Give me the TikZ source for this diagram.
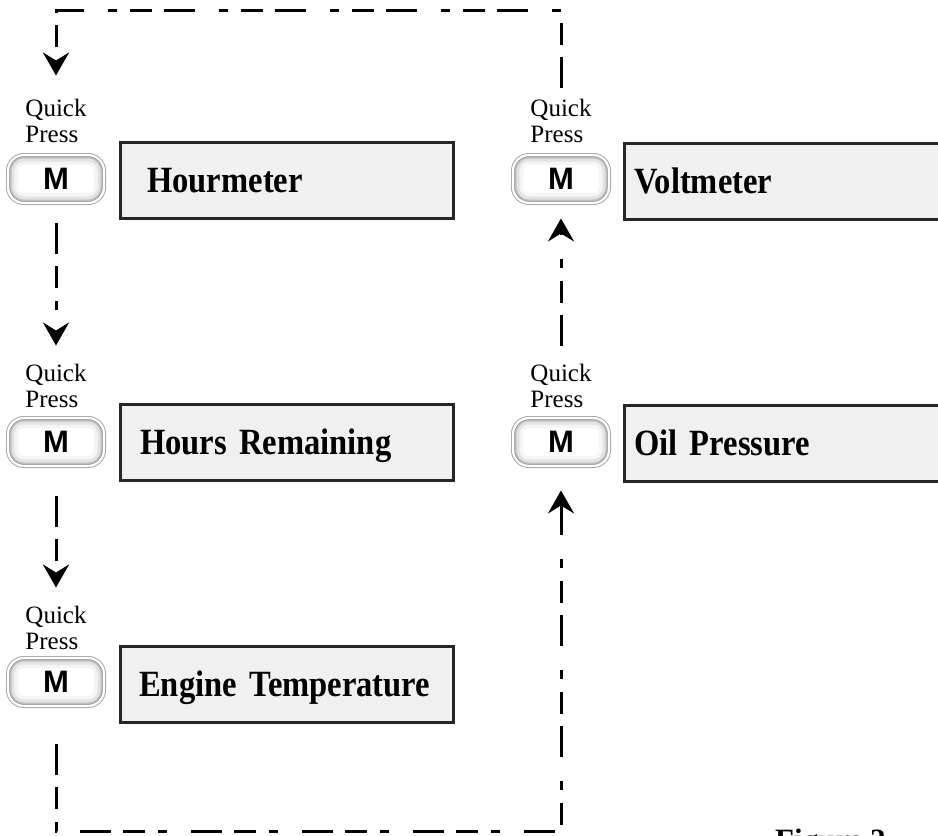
\documentclass[tikz,border=0pt]{standalone}
\usepackage{fontspec}
\setmainfont{Liberation Serif}
\newfontfamily\dispfont[FakeStretch=0.88]{Liberation Serif}
\newfontfamily\keyfont{Liberation Sans}
\usetikzlibrary{arrows.meta}
\usetikzlibrary{positioning}
\definecolor{panel-gray}{RGB}{240, 240, 240}

\begin{document}
\begin{tikzpicture}[x=1pt, y=-1pt,
    keybtn/.style={draw=gray!75, line width=0.9pt, double=white, double distance=2.2pt,
        fill=white, rounded corners=16pt, minimum width=96pt, minimum height=48pt,
        font=\keyfont\bfseries\fontsize{31}{31}\selectfont,
        path picture={
            \draw[gray!8, line width=20pt, rounded corners=16pt] (path picture bounding box.south west) rectangle (path picture bounding box.north east);
            \draw[gray!22, line width=13pt, rounded corners=16pt] (path picture bounding box.south west) rectangle (path picture bounding box.north east);
            \draw[gray!50, line width=7pt, rounded corners=16pt] (path picture bounding box.south west) rectangle (path picture bounding box.north east);
        }},
    quick/.style={align=left, inner sep=0pt, anchor=south, font=\fontsize{25}{26.5}\selectfont},
    panel/.style={draw=black!85, line width=2.5pt, fill=panel-gray, anchor=north west,
        minimum height=76pt, align=left, text height=24.5pt, text depth=0pt,
        font=\dispfont\bfseries\fontsize{37}{40}\selectfont},
    loopline/.style={line width=3pt, dash pattern=on 31pt off 12pt on 22pt off 13pt on 9pt off 24pt},
    tip/.tip={Stealth[length=23pt, width=26pt, inset=8pt]}]
\useasboundingbox (0,0) rectangle (938,836);

% left column
\node[quick] (q1) at (56,143) {Quick\\Press};
\node[keybtn] (b1) at (56,179) {M};
\node[panel, inner xsep=27pt, text width=279pt] (d1) at (119,141) {Hourmeter};

\node[quick] (q2) at (56,408) {Quick\\Press};
\node[keybtn] (b2) at (56,442) {M};
\node[panel, inner xsep=20pt, text width=293pt] (d2) at (119,403) {Hours Remaining};

\node[quick] (q3) at (56,650) {Quick\\Press};
\node[keybtn] (b3) at (56,682) {M};
\node[panel, inner xsep=19pt, text width=295pt] (d3) at (119,645) {Engine Temperature};

% right column
\node[quick] (q4) at (561,143) {Quick\\Press};
\node[keybtn] (b4) at (561,179) {M};
\node[panel, inner xsep=10pt, text width=320pt] (d4) at (623,142) {Voltmeter};

\node[quick] (q5) at (561,408) {Quick\\Press};
\node[keybtn] (b5) at (561,442) {M};
\node[panel, inner xsep=10pt, text width=320pt] (d5) at (623,404) {Oil Pressure};

\node[anchor=base west, inner sep=0pt, font=\bfseries\fontsize{31}{31}\selectfont] (fig) at (775,850) {Figure 2};

% connectors
\coordinate (tl) at (56,10);
\coordinate (tr) at (561,10);
\coordinate (bl) at (56,831);
\coordinate (br) at (561,831);

\draw[loopline, -tip, shorten <=11pt, shorten >=23pt] (q4.north) -- (tr) -- (tl) -- (q1.north);
\draw[loopline, -tip, shorten <=20pt, shorten >=18pt] (b1.south) -- (q2.north);
\draw[loopline, -tip, shorten <=30pt, shorten >=18pt] (b2.south) -- (q3.north);
\draw[loopline, -tip, shorten <=38pt, shorten >=24pt] (b3.south) -- (bl) -- (br) -- (b5.south);
\draw[loopline, -tip, shorten <=18pt, shorten >=15pt] (q5.north) -- (b4.south);

\end{tikzpicture}
\end{document}
